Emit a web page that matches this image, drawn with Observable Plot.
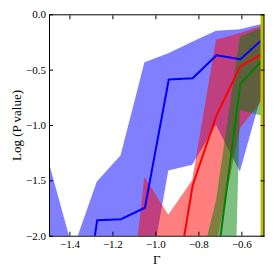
<!DOCTYPE html>
<html><head><meta charset="utf-8">
<script src="https://cdn.jsdelivr.net/npm/d3@7"></script>
<script src="https://cdn.jsdelivr.net/npm/@observablehq/plot@0.6"></script>
<style>
body{margin:0;background:#fff}
#chart svg{font-family:"Liberation Serif",serif}
#chart [aria-label="y-axis label"] text,#chart [aria-label="x-axis label"] text{font-size:13px}
</style>
</head><body><div id="chart"></div>
<script>
// Γ grid (x values)
const gamma = [-1.495, -1.384, -1.273, -1.162, -1.051, -0.940, -0.829, -0.718, -0.607, -0.497];
// blue series
const blueMean  = [-4, -3.3, -1.855, -1.846, -1.743, -0.584, -0.573, -0.365, -0.401, -0.209];
const blueUpper = [-1.345, -2.128, -1.512, -1.274, -0.434, -0.352, -0.247, -0.148, -0.135, -0.082];
const blueLower = [-5, -5, -5, -5, -2.63, -1.41, -1.36, -1.0, -1.42, -0.66];
// red series
const redMean  = [-6, -6, -6, -6, -6, -2.84, -1.542, -0.909, -0.464, -0.343];
const redUpper = [-5, -5, -5, -3.37, -1.467, -1.81, -1.5, -0.23, -0.17, -0.10];
const redLower = [-6, -6, -6, -6, -6, -6, -6, -2.09, -1.03, -0.76];
// green series
const greenMean  = [-6, -6, -6, -6, -6, -6, -6, -2.28, -0.623, -0.394];
const greenUpper = [-6, -6, -6, -6, -6, -6, -2.56, -1.68, -0.2, -0.114];
const greenLower = [-9, -9, -9, -9, -9, -9, -9, -9, -0.865, -0.918];
// vertical marker
const cutoff = [-0.505];
// ticks
const xTicks = [-1.4, -1.2, -1.0, -0.8, -0.6];
const yTicks = [0, -0.5, -1.0, -1.5, -2.0];

const series = [
  {name: "blue", color: "#0000ff", mean: blueMean, lo: blueLower, hi: blueUpper},
  {name: "red", color: "#ff0000", mean: redMean, lo: redLower, hi: redUpper},
  {name: "green", color: "#008000", mean: greenMean, lo: greenLower, hi: greenUpper}
];
const rows = s => gamma.map((g, i) => ({g, m: s.mean[i], lo: s.lo[i], hi: s.hi[i]}));

const fmt = d3.format(".1f");
const marks = [];
for (const s of series) {
  marks.push(Plot.areaY(rows(s), {x: "g", y1: "lo", y2: "hi", fill: s.color, fillOpacity: 0.5, clip: true}));
}
for (const s of series) {
  marks.push(Plot.line(rows(s), {x: "g", y: "m", stroke: s.color, strokeWidth: 2, clip: true}));
}
marks.push(Plot.ruleX(cutoff, {x: d => d, stroke: "#bfbf00", strokeWidth: 3.5}));
marks.push(Plot.frame({stroke: "#000", strokeWidth: 1}));
marks.push(Plot.axisX(xTicks, {anchor: "bottom", tickSize: -4, tickPadding: 7.5, tickFormat: fmt, label: "Γ", labelAnchor: "center", labelArrow: "none", labelOffset: 27.5}));
marks.push(Plot.axisX(xTicks, {anchor: "top", tickSize: -4, tickFormat: () => "", label: null}));
marks.push(Plot.axisY(yTicks, {anchor: "left", tickSize: -4, tickPadding: 7.5, tickFormat: fmt, label: "Log (P value)", labelAnchor: "center", labelArrow: "none", labelOffset: 38}));
marks.push(Plot.axisY(yTicks, {anchor: "right", tickSize: -4, tickFormat: () => "", label: null}));

const chart = Plot.plot({
  width: 274, height: 274,
  marginLeft: 49, marginRight: 10.5, marginTop: 14.3, marginBottom: 38.3,
  style: {fontFamily: "Liberation Serif, serif", fontSize: "11px", background: "#fff", color: "#000"},
  x: {domain: [-1.495, -0.497]},
  y: {domain: [-2, 0]},
  marks
});
document.getElementById("chart").appendChild(chart);
</script>
</body></html>
